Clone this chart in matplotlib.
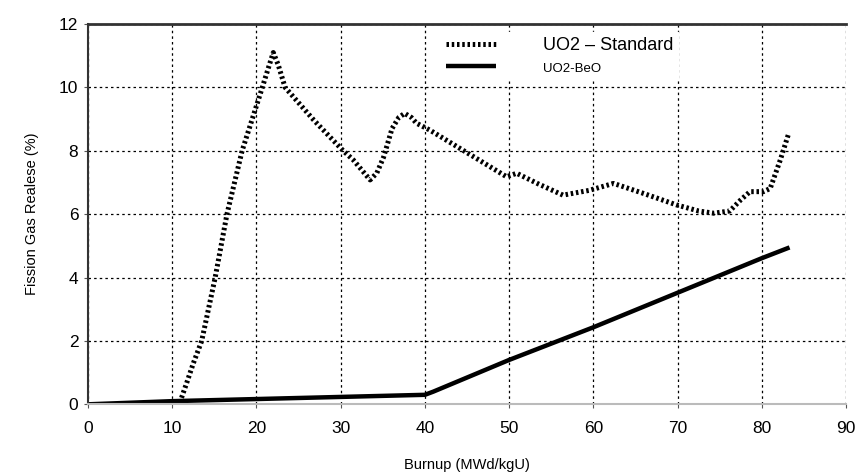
import matplotlib
matplotlib.use("Agg")
import matplotlib.pyplot as plt
import numpy as np

# Data
std_x = [10.9, 11.7, 12.5, 13.5, 15.1, 16.5, 18.3, 20.7, 21.4, 22.0, 22.6, 23.4, 26.8,
         30.3, 31.5, 32.8, 33.5, 34.3, 35.1, 36.1, 36.9, 37.6, 38.4, 39.0, 40.6, 44.5,
         49.7, 50.9, 53.5, 56.4, 59.5, 62.4, 66.0, 69.9, 72.5, 74.3, 76.2, 77.5, 78.6,
         80.2, 81.0, 82.2, 83.2]
std_y = [0.05, 0.66, 1.29, 2.0, 4.0, 6.0, 8.0, 10.0, 10.6, 11.1, 10.7, 10.0, 8.97,
         8.0, 7.71, 7.3, 7.08, 7.3, 7.8, 8.7, 9.05, 9.18, 9.05, 8.87, 8.65, 8.02,
         7.18, 7.29, 6.95, 6.6, 6.75, 6.97, 6.65, 6.29, 6.1, 6.03, 6.1, 6.45, 6.71,
         6.71, 6.81, 7.71, 8.55]
beo_x = [0, 10, 40, 41, 50, 60, 70, 80, 83.3]
beo_y = [0.0, 0.1, 0.3, 0.4, 1.40, 2.43, 3.52, 4.61, 4.95]
x_ticks = [0, 10, 20, 30, 40, 50, 60, 70, 80, 90]
y_ticks = [0, 2, 4, 6, 8, 10, 12]

plt.rcParams['font.family'] = ['Liberation Sans', 'DejaVu Sans']

fig = plt.figure(figsize=(8.56, 4.74), dpi=100)
ax = fig.add_axes([0.1028, 0.147, 0.8855, 0.8024])

l1, = ax.plot(std_x, std_y, color='black', lw=3.6,
              linestyle=(0, (0.5, 0.55)), dash_capstyle='butt', label='UO2 \u2013 Standard')
l2, = ax.plot(beo_x, beo_y, color='black', lw=3.2, solid_capstyle='butt', label='UO2-BeO')

ax.set_xlim(0, 90)
ax.set_ylim(0, 12)
ax.set_xticks(x_ticks)
ax.set_yticks(y_ticks)
ax.grid(True, color='black', linestyle=(0, (2, 2.5)), linewidth=0.9)
ax.tick_params(axis='both', labelsize=12.5, length=3, color='#555555')
ax.tick_params(axis='x', pad=9)
ax.tick_params(axis='y', pad=4)

ax.spines['top'].set_color('#333333')
ax.spines['top'].set_linewidth(2)
ax.spines['left'].set_color('#333333')
ax.spines['left'].set_linewidth(1.5)
ax.spines['bottom'].set_color('#bbbbbb')
ax.spines['bottom'].set_linewidth(1.5)
ax.spines['right'].set_visible(False)

ax.set_xlabel('Burnup (MWd/kgU)', fontsize=10.5, labelpad=16)
ax.set_ylabel('Fission Gas Realese (%)', fontsize=10.5, labelpad=14)

leg = ax.legend(handles=[l1, l2], loc='upper left', bbox_to_anchor=(0.455, 1.0),
                frameon=True, fancybox=False, edgecolor='white', framealpha=1,
                fontsize=12, handlelength=3.0, handletextpad=2.8, labelspacing=0.35,
                borderpad=0.3)
texts = leg.get_texts()
texts[0].set_fontsize(13)
texts[1].set_fontsize(9.5)

fig.savefig('out.png', dpi=100)
